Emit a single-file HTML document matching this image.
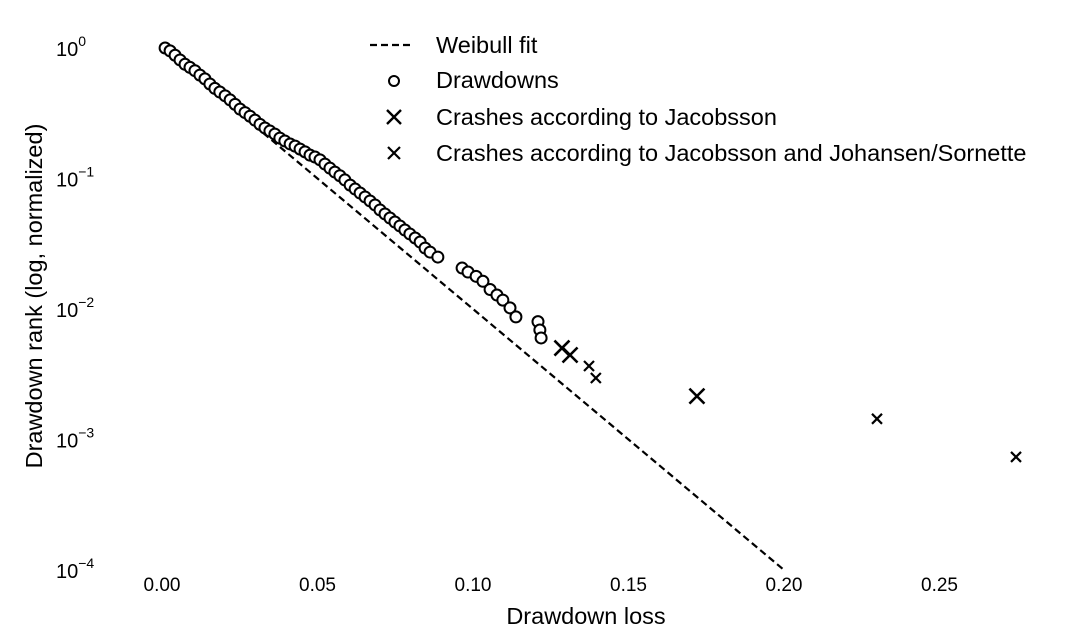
<!DOCTYPE html>
<html><head><meta charset="utf-8"><style>
body{margin:0;background:#fff;}
svg{display:block;font-family:"Liberation Sans",sans-serif;}
</style></head><body>
<svg id="chart" width="1080" height="641" viewBox="0 0 1080 641">
<g id="ticks"></g>
<g id="marks"></g>
<text x="586" y="624" text-anchor="middle" font-size="23.5">Drawdown loss</text>
<text transform="translate(42,296) rotate(-90)" text-anchor="middle" font-size="23.5">Drawdown rank (log, normalized)</text>
<g font-size="23.5">
 <g><line x1="370" y1="45" x2="412" y2="45" stroke="#000" stroke-width="2.2" stroke-dasharray="7,4"/><text x="436" y="53">Weibull fit</text></g>
 <g><circle cx="394" cy="81" r="5" fill="#fff" stroke="#000" stroke-width="2"/><text x="436" y="88">Drawdowns</text></g>
 <g><path d="M387,110L401,124M401,110L387,124" stroke="#000" stroke-width="2.4"/><text x="436" y="125">Crashes according to Jacobsson</text></g>
 <g><path d="M388,147L400,159M400,147L388,159" stroke="#000" stroke-width="2.2"/><text x="436" y="161">Crashes according to Jacobsson and Johansen/Sornette</text></g>
</g>
</svg>
<script>
const xTicks=[0,0.05,0.10,0.15,0.20,0.25];
const xTickLabels=["0.00","0.05","0.10","0.15","0.20","0.25"];
const yTickExp=[0,-1,-2,-3,-4];
const fitLoss=[0,0.05,0.10,0.15,0.20];
const fitRank=[1,0.1,0.01,0.001,0.0001];
const ddLoss=[.001,.0026,.0042,.0058,.0074,.0090,.0106,.0122,.0138,.0154,.0170,.0186,.0203,.0219,.0235,.0251,.0267,.0283,.0299,.0315,.0331,.0347,.0363,.0379,.0395,.0412,.0428,.0444,.0460,.0476,.0492,.0508,.0524,.0540,.0556,.0572,.0588,.0605,.0621,.0637,.0653,.0669,.0685,.0701,.0717,.0733,.0749,.0765,.0781,.0797,.0814,.0830,.0846,.0862,.0887,.0965,.0984,.1010,.1032,.1055,.1077,.1096,.1119,.1138,.1209,.1215,.1219];
const ddRank=[1.0,.95,.88,.81,.75,.71,.67,.62,.58,.53,.49,.46,.43,.40,.37,.34,.32,.30,.28,.26,.244,.231,.219,.204,.194,.184,.177,.168,.160,.151,.146,.139,.129,.120,.112,.105,.0975,.089,.083,.0774,.0722,.0673,.0627,.0574,.0535,.0498,.0464,.0433,.0403,.0376,.0350,.0326,.0293,.0273,.0250,.0206,.0192,.0178,.0163,.0141,.0128,.0117,.0102,.0087,.0080,.0069,.0060];
const jLoss=[.1286,.1312,.1720];
const jRank=[.00502,.00444,.00215];
const jjLoss=[.1373,.1395,.2299,.2746];
const jjRank=[.00366,.00296,.00144,.000735];

const X=v=>162+v*3110;
const Y=r=>48-Math.log10(r)*130.5;
const NS="http://www.w3.org/2000/svg";
function mk(tag,attrs,parent){const e=document.createElementNS(NS,tag);for(const k in attrs)e.setAttribute(k,attrs[k]);parent.appendChild(e);return e;}
const ticks=document.getElementById('ticks');
const marks=document.getElementById('marks');
xTicks.forEach((v,i)=>{
 const t=mk('text',{x:X(v),y:591,'text-anchor':'middle','font-size':19},ticks);
 
 
 t.textContent=xTickLabels[i];
});
yTickExp.forEach(e=>{
 const t=mk('text',{x:56,y:Y(Math.pow(10,e))+8,'font-size':20},ticks);
 
 
 t.textContent='10';
 const s=mk('tspan',{dy:-10,'font-size':14},t);
 s.textContent=e===0?'0':'\u2212'+(-e);
});
const fit=mk('polyline',{points:fitLoss.map((v,i)=>X(v)+','+Y(fitRank[i])).join(' '),fill:'none',stroke:'#000','stroke-width':2.2,'stroke-dasharray':'7,4'},marks);


ddLoss.forEach((v,i)=>{
 const c=mk('circle',{cx:X(v),cy:Y(ddRank[i]),r:5.5,fill:'#fff',stroke:'#000','stroke-width':2},marks);
 
 
});
function cross(x,y,h,w,name){
 const p=mk('path',{d:`M${x-h},${y-h}L${x+h},${y+h}M${x+h},${y-h}L${x-h},${y+h}`,stroke:'#000','stroke-width':w},marks);
 
 
}
jLoss.forEach((v,i)=>cross(X(v),Y(jRank[i]),7.5,2.6,'crash-jacobsson'));
jjLoss.forEach((v,i)=>cross(X(v),Y(jjRank[i]),5,2.2,'crash-jacobsson-johansen'));
</script>
</body></html>
